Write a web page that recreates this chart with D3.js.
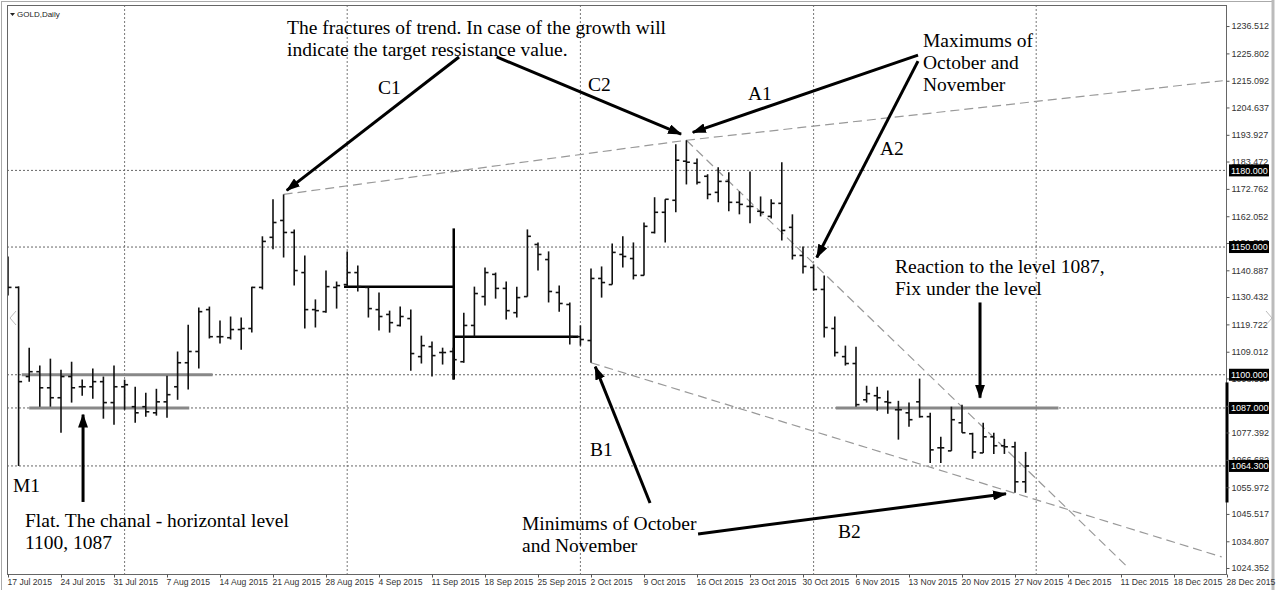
<!DOCTYPE html>
<html>
<head>
<meta charset="utf-8">
<script src="https://cdn.jsdelivr.net/npm/d3@7"></script>
<style>
  body { margin: 0; background: #fff; }
  svg { display: block; }
</style>
</head>
<body>
<svg id="chart" width="1280" height="590"></svg>
<script>
// daily OHLC bars, bar 0 = 17 Jul 2015
var open = [1144.4, 1134.2, 1099.3, 1101.2, 1094.9, 1091.0, 1099.3, 1095.3, 1095.3, 1097.3,
  1089.1, 1095.3, 1087.5, 1087.5, 1085.1, 1089.4, 1095.3, 1104.7, 1109.1, 1125.5,
  1114.9, 1114.5, 1117.7, 1118.1, 1134.2, 1153.8, 1160.4, 1155.7, 1140.0, 1125.5,
  1124.7, 1134.2, 1135.3, 1140.0, 1134.2, 1125.5, 1123.6, 1119.3, 1122.0, 1107.1,
  1111.0, 1108.7, 1109.1, 1105.1, 1119.3, 1130.6, 1139.3, 1133.8, 1124.3, 1130.6,
  1151.0, 1145.1, 1132.2, 1127.5, 1114.9, 1113.4, 1137.7, 1135.3, 1147.1, 1145.5,
  1138.9, 1155.7, 1163.6, 1168.3, 1183.6, 1182.8, 1177.7, 1171.4, 1175.7, 1167.5,
  1165.9, 1164.0, 1162.0, 1167.1, 1157.7, 1146.7, 1142.0, 1133.4, 1118.1, 1107.1,
  1104.4, 1090.2, 1091.8, 1089.4, 1086.3, 1085.1, 1089.4, 1083.6, 1071.4, 1070.2,
  1081.2, 1076.9, 1069.4, 1075.7, 1072.2, 1071.8, 1058.1]
var high = [1146.3, 1134.6, 1110.6, 1103.6, 1106.3, 1102.0, 1105.1, 1098.1, 1102.4, 1099.3,
  1103.6, 1098.1, 1095.3, 1093.0, 1094.5, 1099.6, 1109.1, 1119.6, 1126.3, 1126.7,
  1121.2, 1122.8, 1122.4, 1134.5, 1154.2, 1168.7, 1170.6, 1156.9, 1146.7, 1129.5,
  1140.8, 1136.5, 1148.3, 1142.8, 1134.6, 1132.2, 1125.1, 1126.7, 1125.5, 1115.3,
  1113.0, 1110.6, 1110.6, 1124.3, 1134.5, 1142.0, 1140.0, 1136.5, 1134.5, 1156.9,
  1151.8, 1148.3, 1134.9, 1128.3, 1119.3, 1141.6, 1142.4, 1151.4, 1154.2, 1151.8,
  1159.6, 1169.5, 1168.7, 1190.2, 1191.8, 1184.7, 1178.5, 1181.2, 1179.3, 1171.8,
  1179.6, 1169.8, 1168.7, 1183.2, 1162.8, 1150.2, 1143.2, 1138.9, 1122.8, 1111.4,
  1111.0, 1095.7, 1095.3, 1093.8, 1089.8, 1089.1, 1098.5, 1085.1, 1075.7, 1087.5,
  1088.3, 1077.3, 1081.2, 1077.3, 1074.9, 1073.8, 1069.8]
var low = [1131.0, 1064.3, 1097.3, 1087.5, 1087.5, 1077.3, 1089.1, 1091.8, 1090.6, 1082.8,
  1080.4, 1086.3, 1081.2, 1083.6, 1084.0, 1083.2, 1090.2, 1094.2, 1102.4, 1114.2,
  1112.2, 1113.8, 1109.8, 1116.5, 1133.4, 1149.1, 1145.9, 1134.9, 1118.1, 1118.5,
  1124.3, 1125.9, 1134.5, 1132.6, 1122.4, 1117.3, 1116.5, 1118.9, 1101.6, 1104.4,
  1099.3, 1104.0, 1098.1, 1104.7, 1114.9, 1127.1, 1129.8, 1121.6, 1122.4, 1130.6,
  1140.8, 1128.3, 1124.7, 1111.8, 1111.4, 1104.7, 1130.2, 1135.3, 1142.0, 1137.3,
  1138.9, 1155.3, 1151.8, 1163.6, 1174.5, 1174.5, 1168.7, 1167.5, 1164.0, 1162.8,
  1159.3, 1162.0, 1161.2, 1152.6, 1145.1, 1139.6, 1133.0, 1114.6, 1107.1, 1103.6,
  1087.5, 1089.1, 1085.9, 1084.7, 1074.6, 1079.6, 1083.2, 1065.5, 1065.5, 1070.2,
  1077.3, 1067.1, 1069.4, 1069.0, 1069.0, 1053.8, 1053.8]
var close = [1134.2, 1097.3, 1101.2, 1094.9, 1091.0, 1099.3, 1094.9, 1095.3, 1097.3, 1089.1,
  1095.3, 1096.1, 1085.1, 1085.5, 1089.4, 1092.2, 1104.7, 1109.1, 1124.7, 1114.9,
  1114.9, 1117.7, 1118.1, 1134.2, 1152.2, 1159.6, 1155.7, 1140.8, 1125.5, 1125.1,
  1134.5, 1134.9, 1140.0, 1134.5, 1125.9, 1122.8, 1120.4, 1122.8, 1108.3, 1111.4,
  1107.5, 1108.7, 1105.9, 1119.3, 1131.8, 1140.0, 1133.8, 1125.1, 1130.2, 1154.2,
  1147.1, 1132.6, 1127.9, 1114.9, 1113.8, 1137.7, 1136.1, 1147.9, 1146.3, 1138.9,
  1158.1, 1163.6, 1168.7, 1184.0, 1183.2, 1175.3, 1170.6, 1175.7, 1167.5, 1166.7,
  1165.9, 1163.6, 1167.1, 1156.5, 1146.7, 1142.4, 1133.4, 1118.5, 1108.7, 1104.4,
  1088.3, 1092.6, 1091.0, 1089.1, 1086.3, 1082.4, 1083.6, 1070.6, 1071.4, 1082.4,
  1077.3, 1069.8, 1075.7, 1072.2, 1071.8, 1058.1, 1064.3]

// one label every 5 bars
var dateLabels = ['17 Jul 2015', '24 Jul 2015', '31 Jul 2015', '7 Aug 2015', '14 Aug 2015',
  '21 Aug 2015', '28 Aug 2015', '4 Sep 2015', '11 Sep 2015', '18 Sep 2015', '25 Sep 2015',
  '2 Oct 2015', '9 Oct 2015', '16 Oct 2015', '23 Oct 2015', '30 Oct 2015', '6 Nov 2015',
  '13 Nov 2015', '20 Nov 2015', '27 Nov 2015', '4 Dec 2015', '11 Dec 2015', '18 Dec 2015',
  '28 Dec 2015']
var priceTicks = [1236.512, 1225.802, 1215.092, 1204.637, 1193.927, 1183.472, 1172.762,
  1162.052, 1151.597, 1140.887, 1130.432, 1119.722, 1109.012, 1098.557, 1087.847,
  1077.392, 1066.682, 1055.972, 1045.517, 1034.807, 1024.352]
var levels = [1180, 1150, 1100, 1087, 1064.3]
var levelText = ['1180.000', '1150.000', '1100.000', '1087.000', '1064.300']
var monthStarts = [11, 32, 54, 76, 97]

// drawn objects, [bar index, price]
var trendC = [[26, 1170.6], [64, 1191.8], [114.6, 1215.1]]
var trendA = [[64, 1191.8], [105.7, 1024.4]]
var trendB = [[55, 1104.7], [114.5, 1028.7]]
var grayLevels = [[1.3, 19.3, 1100], [2, 17.1, 1087], [78.1, 99.1, 1087]]
var blackLines = [[[31.7, 1134.5], [42.05, 1134.5]], [[42.05, 1157.3], [42.05, 1098.1]],
  [[42.05, 1114.9], [53.8, 1114.9]]]
var arrows = [
  [[42.55, 1224.4], [26.3, 1172.2]],
  [[46.1, 1224.4], [63.5, 1194.2]],
  [[85.85, 1225.1], [64.6, 1194.9]],
  [[85.85, 1222.8], [76.3, 1145.9]],
  [[91.7, 1128.3], [91.7, 1091.0]],
  [[7.08, 1050.2], [7.08, 1084.4]],
  [[60.57, 1049.8], [55.4, 1103.2]],
  [[65.1, 1037.7], [94.15, 1053.4]]
]
var notes = [
  ['The fractures of trend. In case of the growth will', 287, 34],
  ['indicate the target ressistance value.', 287, 56],
  ['C1', 378, 94], ['C2', 588, 91], ['A1', 748, 100], ['A2', 880, 155],
  ['Maximums of', 923, 47], ['October and', 923, 69], ['November', 923, 91],
  ['Reaction to the level 1087,', 895, 273], ['Fix under the level', 895, 295],
  ['M1', 13, 492], ['Flat. The chanal - horizontal level', 25, 527], ['1100, 1087', 25, 549],
  ['B1', 590, 456], ['Minimums of October', 522, 530], ['and November', 522, 552],
  ['B2', 838, 538]
]

var svg = d3.select('#chart')
var plotLeft = 7
var plotRight = 1226
var plotTop = 5
var plotBottom = 574
var axisFont = '"Liberation Sans", Arial, sans-serif'

var x = d3.scaleLinear().domain([0, 115]).range([8, 1227])
var y = d3.scaleLinear().domain([1022.0, 1244.75]).range([plotBottom, plotTop])

// window frame
svg.append('rect').attr('x', 1.5).attr('y', 1.5).attr('width', 1272).attr('height', 600)
  .attr('fill', 'none').attr('stroke', '#aaa')
svg.append('line').attr('x1', 1273).attr('x2', 1273).attr('y1', 0).attr('y2', 590)
  .attr('stroke', '#bbb').attr('stroke-width', 3)

svg.append('clipPath').attr('id', 'plot')
  .append('rect').attr('x', plotLeft).attr('y', plotTop)
  .attr('width', plotRight - plotLeft).attr('height', plotBottom - plotTop)

var g = svg.append('g').attr('clip-path', 'url(#plot)')

// month separators
g.selectAll('.vgrid').data(monthStarts).enter().append('line')
  .attr('x1', d => x(d)).attr('x2', d => x(d)).attr('y1', plotTop).attr('y2', plotBottom)
  .attr('stroke', '#777').attr('stroke-dasharray', '2,2')

// horizontal level lines
g.selectAll('.hlevel').data(levels).enter().append('line')
  .attr('x1', plotLeft).attr('x2', plotRight).attr('y1', d => y(d)).attr('y2', d => y(d))
  .attr('stroke', '#666').attr('stroke-dasharray', '2,2')

// trend lines
var line = d3.line().x(d => x(d[0])).y(d => y(d[1]))
g.selectAll('.trend').data([trendC, trendA, trendB]).enter().append('path')
  .attr('d', line).attr('fill', 'none')
  .attr('stroke', '#999').attr('stroke-width', 1.2).attr('stroke-dasharray', '9,5')

// channel levels
g.selectAll('.glevel').data(grayLevels).enter().append('line')
  .attr('x1', d => x(d[0])).attr('x2', d => x(d[1]))
  .attr('y1', d => y(d[2])).attr('y2', d => y(d[2]))
  .attr('stroke', '#888').attr('stroke-width', 3)

g.selectAll('.bline').data(blackLines).enter().append('path')
  .attr('d', line).attr('fill', 'none').attr('stroke', '#000').attr('stroke-width', 2.5)

// bars
var idx = d3.range(close.length)
var bars = g.selectAll('.bar').data(idx).enter().append('g').attr('class', 'bar')
  .attr('stroke', '#111').attr('stroke-width', 1.6)
bars.append('line')
  .attr('x1', i => x(i)).attr('x2', i => x(i))
  .attr('y1', i => y(high[i])).attr('y2', i => y(low[i]))
bars.append('line')
  .attr('x1', i => x(i) - 3.5).attr('x2', i => x(i))
  .attr('y1', i => y(open[i])).attr('y2', i => y(open[i]))
bars.append('line')
  .attr('x1', i => x(i)).attr('x2', i => x(i) + 3.5)
  .attr('y1', i => y(close[i])).attr('y2', i => y(close[i]))

// plot border
svg.append('rect').attr('x', plotLeft + 0.5).attr('y', plotTop + 0.5)
  .attr('width', plotRight - plotLeft).attr('height', plotBottom - plotTop)
  .attr('fill', 'none').attr('stroke', '#666')
svg.append('line').attr('x1', plotRight + 1).attr('x2', plotRight + 1)
  .attr('y1', y(1097)).attr('y2', y(1050))
  .attr('stroke', '#000').attr('stroke-width', 3)

// price axis
var yAxis = svg.append('g').attr('transform', 'translate(' + (plotRight + 0.5) + ',0)')
  .call(d3.axisRight(y).tickValues(priceTicks).tickFormat(d3.format('.3f')).tickSize(3).tickPadding(2))
yAxis.select('.domain').remove()
yAxis.selectAll('line').attr('stroke', '#555')
yAxis.selectAll('text').attr('fill', '#333')
  .style('font-family', axisFont).style('font-size', '9px')

var lv = svg.selectAll('.lvl').data(levels).enter().append('g')
  .attr('transform', d => 'translate(1229,' + y(d) + ')')
lv.append('rect').attr('x', 0).attr('y', -6).attr('width', 40).attr('height', 12).attr('fill', '#000')
lv.append('text').attr('x', 2).attr('dy', '0.35em').attr('fill', '#fff')
  .style('font-family', axisFont).style('font-size', '9px')
  .text((d, i) => levelText[i])

// time axis
var xAxis = svg.append('g').attr('transform', 'translate(0,' + (plotBottom + 0.5) + ')')
  .call(d3.axisBottom(x).tickValues(dateLabels.map((d, i) => i * 5))
    .tickFormat(d => dateLabels[d / 5]).tickSize(3).tickPadding(1))
xAxis.select('.domain').remove()
xAxis.selectAll('line').attr('stroke', '#555')
xAxis.selectAll('text').attr('fill', '#333').attr('text-anchor', 'start').attr('x', -1)
  .style('font-family', axisFont).style('font-size', '8.6px')

// chart title
svg.append('path').attr('d', 'M10,13 L15,13 L12.5,16 Z').attr('fill', '#222')
svg.append('text').attr('x', 17).attr('y', 17).text('GOLD,Daily').attr('fill', '#222')
  .style('font-family', axisFont).style('font-size', '8px')

// scroll chevrons
svg.append('path').attr('d', 'M16,311 L10,318 L16,325').attr('fill', 'none').attr('stroke', '#bbb')
svg.append('path').attr('d', 'M1266,311 L1272,318 L1266,325').attr('fill', 'none').attr('stroke', '#bbb')

// arrows
svg.append('defs').append('marker').attr('id', 'head')
  .attr('viewBox', '0 0 14 10').attr('refX', 13).attr('refY', 5)
  .attr('markerWidth', 14).attr('markerHeight', 10).attr('markerUnits', 'userSpaceOnUse')
  .attr('orient', 'auto')
  .append('path').attr('d', 'M0,0 L14,5 L0,10 Z').attr('fill', '#000')
svg.selectAll('.arrow').data(arrows).enter().append('path')
  .attr('d', line).attr('stroke', '#000').attr('stroke-width', 3)
  .attr('marker-end', 'url(#head)')

svg.selectAll('.note').data(notes).enter().append('text')
  .attr('x', d => d[1]).attr('y', d => d[2]).text(d => d[0]).attr('fill', '#000')
  .style('font-family', '"Liberation Serif", "Times New Roman", serif').style('font-size', '19.5px')
</script>
</body>
</html>
